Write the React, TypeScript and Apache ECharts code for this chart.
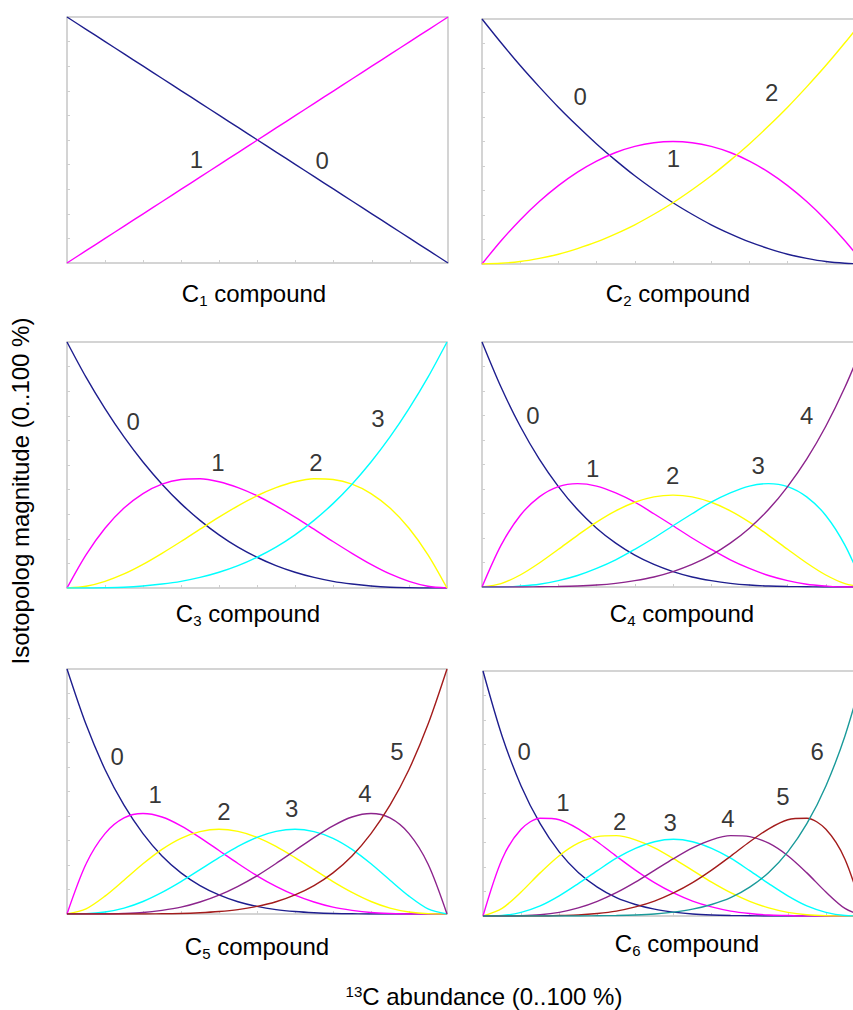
import React, { useEffect, useRef } from "react";
import * as echarts from "echarts";

// 13C abundance, 0..1 in steps of 0.05
const abundance = [
  0, 0.05, 0.1, 0.15, 0.2, 0.25, 0.3, 0.35, 0.4, 0.45, 0.5,
  0.55, 0.6, 0.65, 0.7, 0.75, 0.8, 0.85, 0.9, 0.95, 1,
];

// Isotopolog magnitudes (M+0, M+1, ...) for each compound size
const c1Curves = [
  [1, 0.95, 0.9, 0.85, 0.8, 0.75, 0.7, 0.65, 0.6, 0.55, 0.5, 0.45, 0.4, 0.35, 0.3, 0.25, 0.2, 0.15, 0.1, 0.05, 0],
  [0, 0.05, 0.1, 0.15, 0.2, 0.25, 0.3, 0.35, 0.4, 0.45, 0.5, 0.55, 0.6, 0.65, 0.7, 0.75, 0.8, 0.85, 0.9, 0.95, 1],
];

const c2Curves = [
  [1, 0.903, 0.81, 0.723, 0.64, 0.563, 0.49, 0.423, 0.36, 0.303, 0.25, 0.203, 0.16, 0.123, 0.09, 0.063, 0.04, 0.023, 0.01, 0.003, 0],
  [0, 0.095, 0.18, 0.255, 0.32, 0.375, 0.42, 0.455, 0.48, 0.495, 0.5, 0.495, 0.48, 0.455, 0.42, 0.375, 0.32, 0.255, 0.18, 0.095, 0],
  [0, 0.003, 0.01, 0.023, 0.04, 0.063, 0.09, 0.123, 0.16, 0.203, 0.25, 0.303, 0.36, 0.423, 0.49, 0.563, 0.64, 0.723, 0.81, 0.903, 1],
];

const c3Curves = [
  [1, 0.857, 0.729, 0.614, 0.512, 0.422, 0.343, 0.275, 0.216, 0.166, 0.125, 0.091, 0.064, 0.043, 0.027, 0.016, 0.008, 0.003, 0.001, 0, 0],
  [0, 0.135, 0.243, 0.325, 0.384, 0.422, 0.441, 0.444, 0.432, 0.408, 0.375, 0.334, 0.288, 0.239, 0.189, 0.141, 0.096, 0.057, 0.027, 0.007, 0],
  [0, 0.007, 0.027, 0.057, 0.096, 0.141, 0.189, 0.239, 0.288, 0.334, 0.375, 0.408, 0.432, 0.444, 0.441, 0.422, 0.384, 0.325, 0.243, 0.135, 0],
  [0, 0, 0.001, 0.003, 0.008, 0.016, 0.027, 0.043, 0.064, 0.091, 0.125, 0.166, 0.216, 0.275, 0.343, 0.422, 0.512, 0.614, 0.729, 0.857, 1],
];

const c4Curves = [
  [1, 0.815, 0.656, 0.522, 0.41, 0.316, 0.24, 0.179, 0.13, 0.092, 0.063, 0.041, 0.026, 0.015, 0.008, 0.004, 0.002, 0.001, 0, 0, 0],
  [0, 0.171, 0.292, 0.368, 0.41, 0.422, 0.412, 0.384, 0.346, 0.299, 0.25, 0.2, 0.154, 0.111, 0.076, 0.047, 0.026, 0.011, 0.004, 0, 0],
  [0, 0.014, 0.049, 0.098, 0.154, 0.211, 0.265, 0.311, 0.346, 0.368, 0.375, 0.368, 0.346, 0.311, 0.265, 0.211, 0.154, 0.098, 0.049, 0.014, 0],
  [0, 0, 0.004, 0.011, 0.026, 0.047, 0.076, 0.111, 0.154, 0.2, 0.25, 0.299, 0.346, 0.384, 0.412, 0.422, 0.41, 0.368, 0.292, 0.171, 0],
  [0, 0, 0, 0.001, 0.002, 0.004, 0.008, 0.015, 0.026, 0.041, 0.063, 0.092, 0.13, 0.179, 0.24, 0.316, 0.41, 0.522, 0.656, 0.815, 1],
];

const c5Curves = [
  [1, 0.774, 0.59, 0.444, 0.328, 0.237, 0.168, 0.116, 0.078, 0.05, 0.031, 0.018, 0.01, 0.005, 0.002, 0.001, 0, 0, 0, 0, 0],
  [0, 0.204, 0.328, 0.392, 0.41, 0.396, 0.36, 0.312, 0.259, 0.206, 0.156, 0.113, 0.077, 0.049, 0.028, 0.015, 0.006, 0.002, 0, 0, 0],
  [0, 0.021, 0.073, 0.138, 0.205, 0.264, 0.309, 0.336, 0.346, 0.337, 0.313, 0.276, 0.23, 0.181, 0.132, 0.088, 0.051, 0.024, 0.008, 0.001, 0],
  [0, 0.001, 0.008, 0.024, 0.051, 0.088, 0.132, 0.181, 0.23, 0.276, 0.313, 0.337, 0.346, 0.336, 0.309, 0.264, 0.205, 0.138, 0.073, 0.021, 0],
  [0, 0, 0, 0.002, 0.006, 0.015, 0.028, 0.049, 0.077, 0.113, 0.156, 0.206, 0.259, 0.312, 0.36, 0.396, 0.41, 0.392, 0.328, 0.204, 0],
  [0, 0, 0, 0, 0, 0.001, 0.002, 0.005, 0.01, 0.018, 0.031, 0.05, 0.078, 0.116, 0.168, 0.237, 0.328, 0.444, 0.59, 0.774, 1],
];

const c6Curves = [
  [1, 0.735, 0.531, 0.377, 0.262, 0.178, 0.118, 0.075, 0.047, 0.028, 0.016, 0.008, 0.004, 0.002, 0.001, 0, 0, 0, 0, 0, 0],
  [0, 0.232, 0.354, 0.399, 0.393, 0.356, 0.303, 0.244, 0.187, 0.136, 0.094, 0.061, 0.037, 0.02, 0.01, 0.004, 0.002, 0, 0, 0, 0],
  [0, 0.031, 0.098, 0.176, 0.246, 0.297, 0.324, 0.328, 0.311, 0.278, 0.234, 0.186, 0.138, 0.095, 0.06, 0.033, 0.015, 0.005, 0.001, 0, 0],
  [0, 0.002, 0.015, 0.041, 0.082, 0.132, 0.185, 0.236, 0.276, 0.303, 0.313, 0.303, 0.276, 0.236, 0.185, 0.132, 0.082, 0.041, 0.015, 0.002, 0],
  [0, 0, 0.001, 0.005, 0.015, 0.033, 0.06, 0.095, 0.138, 0.186, 0.234, 0.278, 0.311, 0.328, 0.324, 0.297, 0.246, 0.176, 0.098, 0.031, 0],
  [0, 0, 0, 0, 0.002, 0.004, 0.01, 0.02, 0.037, 0.061, 0.094, 0.136, 0.187, 0.244, 0.303, 0.356, 0.393, 0.399, 0.354, 0.232, 0],
  [0, 0, 0, 0, 0, 0, 0.001, 0.002, 0.004, 0.008, 0.016, 0.028, 0.047, 0.075, 0.118, 0.178, 0.262, 0.377, 0.531, 0.735, 1],
];

// Carbon count of each compound (used in the panel captions)
const carbonCounts = ["1", "2", "3", "4", "5", "6"];

// Curve annotations: [abundance, magnitude, isotopolog index]
const c1Labels: [number, number, string][] = [[0.34, 0.419, "1"], [0.67, 0.416, "0"]];
const c2Labels: [number, number, string][] = [[0.257, 0.683, "0"], [0.501, 0.431, "1"], [0.758, 0.699, "2"]];
const c3Labels: [number, number, string][] = [[0.174, 0.675, "0"], [0.397, 0.512, "1"], [0.655, 0.512, "2"], [0.818, 0.691, "3"]];
const c4Labels: [number, number, string][] = [[0.133, 0.702, "0"], [0.29, 0.484, "1"], [0.499, 0.457, "2"], [0.723, 0.495, "3"], [0.85, 0.699, "4"]];
const c5Labels: [number, number, string][] = [[0.132, 0.642, "0"], [0.232, 0.486, "1"], [0.413, 0.418, "2"], [0.591, 0.431, "3"], [0.784, 0.493, "4"], [0.868, 0.662, "5"]];
const c6Labels: [number, number, string][] = [[0.108, 0.671, "0"], [0.21, 0.464, "1"], [0.359, 0.385, "2"], [0.491, 0.381, "3"], [0.643, 0.396, "4"], [0.787, 0.487, "5"], [0.877, 0.671, "6"]];

const allCurves = [c1Curves, c2Curves, c3Curves, c4Curves, c5Curves, c6Curves];
const allLabels = [c1Labels, c2Labels, c3Labels, c4Labels, c5Labels, c6Labels];

const isotopologColors = ["#1e1e8e", "#ff00ff", "#ffff00", "#00ffff", "#8c248c", "#a31c1c", "#1a9a9a"];

const FONT = "'Liberation Sans', Arial, Helvetica, sans-serif";

// Panel rectangles in pixels (right-hand panels run past the page edge)
const panelRects = [
  { left: 67, top: 17, width: 381, height: 246 },
  { left: 482, top: 19, width: 382, height: 245 },
  { left: 67, top: 342, width: 380, height: 246 },
  { left: 482, top: 342, width: 382, height: 245 },
  { left: 67, top: 669, width: 380, height: 245 },
  { left: 483, top: 671, width: 381, height: 245 },
];
// Caption centres
const captionCentres = [
  [254, 293], [678, 293], [248, 613], [682, 613], [257, 946], [687, 943],
];

export default function App() {
  const ref = useRef<HTMLDivElement>(null);

  useEffect(() => {
    if (!ref.current) return;
    const chart = echarts.init(ref.current, undefined, { renderer: "svg" });

    const grid = panelRects.map((r) => ({
      ...r,
      show: true,
      borderColor: "#c6c6c6",
      borderWidth: 1.5,
      containLabel: false,
      outerBoundsMode: "none",
    }));

    const axisBase = {
      type: "value" as const,
      min: 0,
      max: 1,
      interval: 0.1,
      axisLine: { show: false },
      axisTick: { show: true, inside: true, length: 3, lineStyle: { color: "#cfcfcf", width: 1 } },
      axisLabel: { show: false },
      splitLine: { show: false },
    };
    const xAxis = panelRects.map((_, i) => ({ ...axisBase, gridIndex: i }));
    const yAxis = panelRects.map((_, i) => ({ ...axisBase, gridIndex: i }));

    const series: any[] = [];
    allCurves.forEach((curves, i) => {
      curves.forEach((values, k) => {
        series.push({
          type: "line",
          name: `C${carbonCounts[i]} M+${k}`,
          xAxisIndex: i,
          yAxisIndex: i,
          data: abundance.map((p, j) => [p, values[j]]),
          smooth: 0.3,
          symbol: "none",
          silent: true,
          lineStyle: { color: isotopologColors[k], width: 1.4 },
          z: 2,
        });
      });
      series.push({
        type: "scatter",
        xAxisIndex: i,
        yAxisIndex: i,
        data: allLabels[i].map(([x, y, t]) => ({ value: [x, y], name: t })),
        symbolSize: 1,
        silent: true,
        itemStyle: { color: "rgba(0,0,0,0)" },
        label: {
          show: true,
          position: "inside",
          formatter: "{b}",
          fontSize: 24,
          fontFamily: FONT,
          color: "#000",
        },
        z: 5,
      });
    });

    const captionRich = {
      m: { fontSize: 24, fontFamily: FONT, lineHeight: 30, verticalAlign: "middle", fill: "#000" },
      s: { fontSize: 15, fontFamily: FONT, lineHeight: 15, verticalAlign: "bottom", fill: "#000" },
    };

    const graphic: any[] = captionCentres.map(([x, y], i) => ({
      type: "text",
      x,
      y,
      silent: true,
      style: {
        text: `{m|C}{s|${carbonCounts[i]}}{m| compound}`,
        rich: captionRich,
        align: "center",
        verticalAlign: "middle",
        fill: "#000",
      },
    }));

    graphic.push({
      type: "text",
      x: 20,
      y: 491,
      rotation: Math.PI / 2,
      silent: true,
      style: {
        text: "Isotopolog magnitude (0..100 %)",
        font: `24px ${FONT}`,
        fill: "#000",
        align: "center",
        verticalAlign: "middle",
      },
    });

    graphic.push({
      type: "text",
      x: 484,
      y: 996,
      silent: true,
      style: {
        text: "{p|13}{m|C abundance (0..100 %)}",
        rich: {
          p: { fontSize: 15, fontFamily: FONT, lineHeight: 15, verticalAlign: "top", fill: "#000" },
          m: { fontSize: 24, fontFamily: FONT, lineHeight: 25, verticalAlign: "middle", fill: "#000" },
        },
        align: "center",
        verticalAlign: "middle",
        fill: "#000",
      },
    });

    chart.setOption({
      animation: false,
      backgroundColor: "#ffffff",
      grid,
      xAxis,
      yAxis,
      series,
      graphic,
    });

    return () => chart.dispose();
  }, []);

  return (
    <div
      ref={ref}
      style={{ position: "absolute", left: 0, top: 0, width: 853, height: 1010 }}
    />
  );
}
